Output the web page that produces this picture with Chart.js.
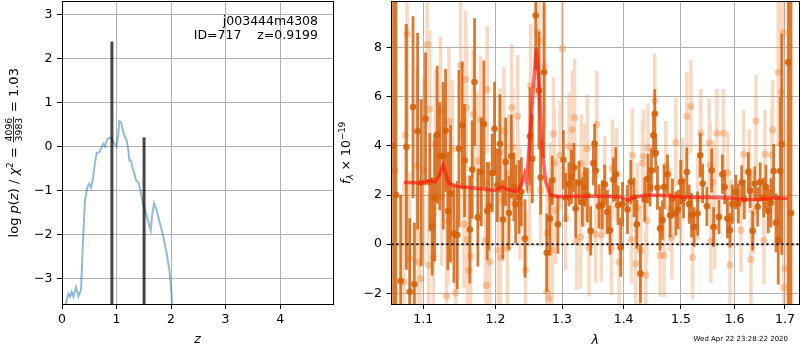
<!DOCTYPE html>
<html>
<head>
<meta charset="utf-8">
<script src="https://cdn.jsdelivr.net/npm/chart.js@4.4.1/dist/chart.umd.min.js"></script>
<style>
html, body { margin: 0; padding: 0; background: #fff; }
#wrap { position: relative; width: 800px; height: 350px; }
#wrap canvas { position: absolute; left: 0; top: 0; }
</style>
</head>
<body>
<div id="wrap">
  <canvas id="pzChart" width="800" height="350"></canvas>
  <canvas id="specChart" width="800" height="350"></canvas>
</div>
<script>
// ---- left panel: log p(z)
const zGrid = [0.06, 0.073, 0.116, 0.147, 0.177, 0.208, 0.257, 0.30, 0.349, 0.391, 0.422, 0.465, 0.50, 0.532, 0.563,
  0.606, 0.636, 0.685, 0.728, 0.758, 0.789, 0.82, 0.868, 0.90, 0.96, 1.003, 1.033, 1.05, 1.083, 1.125, 1.156, 1.187,
  1.217, 1.235, 1.266, 1.297, 1.321, 1.358, 1.40, 1.431, 1.48, 1.541, 1.584, 1.627, 1.657, 1.688, 1.737, 1.798, 1.86,
  1.92, 1.97, 2.0, 2.025];
const logPz = [-3.75, -3.57, -3.35, -3.42, -3.31, -3.42, -3.20, -3.41, -3.26, -1.98, -1.23, -0.92, -0.85, -0.94, -0.77,
  -0.36, -0.15, -0.13, -0.02, 0.06, 0.0, 0.14, 0.20, 0.20, 0.06, 0.0, 0.29, 0.58, 0.55, 0.33, 0.21, 0.14,
  -0.09, -0.32, -0.32, -0.51, -0.58, -0.77, -0.81, -0.96, -1.27, -1.53, -1.72, -1.91, -1.53, -1.29, -1.45, -1.76, -2.06,
  -2.44, -2.82, -3.2, -3.7];
const zPeaks = [0.915, 1.505];
const peakTops = [2.39, 0.21];
const zTicks = [0, 1, 2, 3, 4];
const pzTicks = [-3, -2, -1, 0, 1, 2, 3];
const zMin = 0, zMax = 4.97, pzMin = -3.585, pzMax = 3.30;

// ---- right panel: spectrum
const lamTicks = [1.1, 1.2, 1.3, 1.4, 1.5, 1.6, 1.7];
const fluxTicks = [-2, 0, 2, 4, 6, 8];
const lamMin = 1.0588, lamMax = 1.729, fluxMin = -2.435, fluxMax = 9.88;

const darkLam = [1.0615, 1.0645, 1.0705, 1.0780, 1.0823, 1.0866, 1.0884, 1.0926, 1.0973, 1.1031, 1.1088, 1.1120, 1.1151,
  1.1187, 1.1222, 1.1268, 1.1300, 1.1331, 1.1368, 1.1414, 1.1460, 1.1483, 1.1529, 1.1561, 1.1635, 1.1668, 1.1701, 1.1748,
  1.1796, 1.1833, 1.1881, 1.1904, 1.1953, 1.1986, 1.2026, 1.2064, 1.2107, 1.2147, 1.2195, 1.2230, 1.2269, 1.2294, 1.2343,
  1.2379, 1.2433, 1.2507, 1.2543, 1.2594, 1.2644, 1.2670, 1.2721, 1.2763, 1.2812, 1.2849, 1.2936, 1.3021, 1.3057, 1.3109,
  1.3147, 1.3188, 1.3215, 1.3268, 1.3322, 1.3358, 1.3402, 1.3456, 1.3500, 1.3520, 1.3538, 1.3591, 1.3644, 1.3685, 1.3730,
  1.3773, 1.3829, 1.3868, 1.3907, 1.3952, 1.3981, 1.4065, 1.4121, 1.4177, 1.4223, 1.4286, 1.4361, 1.4418, 1.4453, 1.4477,
  1.4512, 1.4535, 1.4552, 1.4582, 1.4628, 1.4670, 1.4699, 1.4759, 1.4806, 1.4849, 1.4908, 1.4949, 1.4998, 1.5047, 1.5106,
  1.5149, 1.5193, 1.5241, 1.5304, 1.5352, 1.5397, 1.5476, 1.5565, 1.5601, 1.5703, 1.5767, 1.5811, 1.5862, 1.5912, 1.5958,
  1.6026, 1.6071, 1.6137, 1.6188, 1.6267, 1.6304, 1.6352, 1.6397, 1.6451, 1.6501, 1.6570, 1.6616, 1.6662, 1.6716, 1.6771,
  1.6817, 1.6864, 1.6905, 1.6934, 1.7069, 1.7124];
const darkFlux = [4.0, 2.0, -1.5, 3.96, -1.94, 5.58, -1.63, 4.6, 2.5, 5.1, 2.53, 0.73, 1.9,
  4.46, 3.58, 3.6, 4.63, 1.35, 2.06, 0.43, 0.37, 3.89, 4.84, 3.41, 0.6, 3.04, 6.6, 1.09,
  2.94, 4.88, 1.35, 1.54, 2.9, 4.7, 2.4, 4.09, 1.0, 3.35, 1.27, 3.58, 2.33, 1.63, 1.92,
  2.13, 0.23, 4.39, 3.48, 9.31, 6.26, 2.71, 7.0, -0.35, 1.04, 2.6, 0.81, 3.44, 1.9, 2.44,
  2.74, 3.12, 1.45, 2.5, 1.72, 2.33, 1.99, 0.54, 3.3, 4.09, 3.0, 1.54, 1.6, 2.44, 1.31,
  0.57, 2.63, 2.85, 1.59, -0.13, 1.63, 1.41, 2.53, 1.9, 0.81, -1.2, 1.82, 2.67, 2.33, 3.0,
  4.43, 5.31, 3.71, 2.3, 0.64, 0.98, 2.33, 2.85, 1.18, 1.86, 1.25, 1.41, 2.53, 1.86, 2.94,
  1.63, 1.18, 0.7, 1.25, 3.62, 2.47, 1.54, 3.0, 0.7, 1.11, 2.85, 2.33, 1.04, 0.57, 1.63,
  2.13, 1.65, 2.5, 1.82, 2.94, 2.17, 0.54, 2.47, 1.52, 2.53, 1.9, 2.33, 1.35, 1.68, 2.98,
  0.87, 0.16, 2.98, 4.07, 7.41, 1.27];
const darkErr = [14.0, 11.0, 3.5, 5.0, 3.0, 3.7, 2.5, 4.0, 3.4, 2.7, 2.0, 2.0, 2.6,
  2.8, 2.2, 3.0, 2.5, 2.4, 2.8, 2.0, 2.2, 3.2, 2.6, 2.3, 2.2, 2.0, 2.6, 2.0,
  2.2, 2.6, 2.0, 1.8, 1.6, 1.9, 1.5, 2.0, 1.6, 1.8, 1.5, 1.7, 1.4, 1.6, 1.5,
  1.4, 1.6, 2.0, 1.8, 2.2, 2.4, 1.5, 3.5, 1.6, 1.5, 1.0, 1.2, 1.2, 1.0, 0.9,
  1.1, 1.0, 1.2, 0.9, 1.0, 0.8, 1.1, 1.0, 0.9, 0.8, 1.0, 0.9, 1.0, 0.8, 0.9,
  1.0, 0.9, 1.1, 0.8, 1.2, 0.9, 1.0, 0.9, 0.8, 1.0, 1.2, 0.9, 1.0, 0.8, 0.9,
  0.9, 1.0, 0.8, 0.9, 0.9, 0.8, 0.9, 0.8, 0.9, 0.8, 0.9, 0.8, 0.9, 0.8, 1.0,
  0.8, 0.9, 0.8, 0.9, 0.9, 0.8, 0.8, 0.9, 0.8, 0.7, 0.8, 0.7, 0.8, 0.7, 0.8,
  0.7, 0.8, 0.7, 0.8, 0.8, 0.7, 0.8, 0.7, 0.8, 0.8, 0.8, 0.9, 0.9, 1.0, 1.1,
  1.2, 1.8, 3.0, 4.5, 12.0, 12.0];

const lightLam = [1.0630, 1.0748, 1.0768, 1.0789, 1.0823, 1.0920, 1.0938, 1.0964, 1.1008, 1.1053, 1.1074, 1.1088, 1.1133,
  1.1164, 1.1232, 1.1245, 1.1314, 1.1331, 1.1345, 1.1391, 1.1437, 1.1506, 1.1552, 1.1575, 1.1589, 1.1598, 1.1621, 1.1645,
  1.1683, 1.1748, 1.1786, 1.1857, 1.1871, 1.1881, 1.1919, 1.2040, 1.2064, 1.2074, 1.2099, 1.2122, 1.2172, 1.2195, 1.2237,
  1.2252, 1.2325, 1.2358, 1.2443, 1.2503, 1.2518, 1.2619, 1.2644, 1.2670, 1.2731, 1.2763, 1.2770, 1.2798, 1.2823, 1.2849,
  1.2865, 1.2880, 1.2901, 1.2968, 1.3005, 1.3057, 1.3109, 1.3163, 1.3199, 1.3231, 1.3295, 1.3306, 1.3349, 1.3402, 1.3429,
  1.3538, 1.3554, 1.3630, 1.3685, 1.3796, 1.3812, 1.3885, 1.3924, 1.4132, 1.4149, 1.4206, 1.4235, 1.4292, 1.4321, 1.4338,
  1.4378, 1.4395, 1.4418, 1.4535, 1.4628, 1.4699, 1.4729, 1.4806, 1.4836, 1.4908, 1.4998, 1.5029, 1.5106, 1.5180, 1.5211,
  1.5304, 1.5364, 1.5518, 1.5537, 1.5550, 1.5601, 1.5625, 1.5663, 1.5785, 1.5873, 1.5912, 1.5929, 1.6123, 1.6176, 1.6285,
  1.6318, 1.6370, 1.6417, 1.6576, 1.6596, 1.6730, 1.6750, 1.6864, 1.6934, 1.6970, 1.6974, 1.7001];
const lightFlux = [3.0, -1.53, 4.43, 8.56, -0.58, 3.2, -0.72, -1.4, 3.0, 8.13, -0.85, 5.5, -0.54,
  4.1, 5.45, 1.92, -2.11, 0.95, 5.0, 3.86, -1.98, 7.28, 0.81, 6.7, 5.56, 0.19, -1.06, -0.49,
  5.3, 3.39, 5.07, 0.16, -1.67, 6.29, -0.72, -0.24, 3.75, -0.54, 1.79, 4.6, -0.17, 2.87, 5.56,
  3.96, 5.2, 1.65, -1.06, 2.22, 6.46, 8.63, 8.29, 2.2, 7.24, -1.94, 0.46, -2.21, 1.95, -0.24,
  4.5, 3.3, 1.38, 3.62, 7.96, 1.04, 3.98, 4.66, 5.15, 0.13, 0.3, 3.28, 2.8, 3.89, -0.13,
  0.41, 4.88, 0.37, 2.4, -0.17, 3.08, 2.85, -0.72, 0.19, 3.62, -0.79, 1.49, -0.27, 3.3, 3.58,
  -1.26, 0.95, 3.93, 5.85, -0.45, -0.45, 3.21, 1.41, 0.27, 4.16, 1.65, 2.63, 5.2, 5.61, -0.54,
  1.86, 4.52, 4.13, 3.21, 0.13, 2.53, 0.68, 4.52, 4.52, 2.9, -0.85, 1.04, 0.57, 3.66, 2.98,
  -0.62, 1.31, 5.01, 0.16, 3.66, 3.62, 4.66, 7.0, 6.19, 8.59, -1.76, -0.99];
const lightErr = [12.0, 4.0, 4.5, 4.0, 3.5, 4.0, 3.2, 3.5, 3.8, 3.0, 3.0, 3.2, 2.8,
  3.0, 3.0, 2.8, 3.0, 2.6, 3.0, 2.8, 3.0, 3.0, 2.6, 2.8, 2.6, 2.6, 2.8, 2.5,
  2.6, 2.8, 2.6, 2.5, 2.8, 2.6, 2.4, 2.5, 2.6, 2.4, 2.5, 2.6, 2.3, 2.4, 2.6,
  2.4, 2.5, 2.3, 2.4, 2.3, 2.5, 2.6, 2.4, 2.3, 2.5, 2.4, 2.3, 2.4, 2.2, 2.2,
  2.3, 2.2, 2.2, 2.2, 3.2, 2.1, 2.2, 2.4, 2.4, 2.0, 2.1, 2.0, 2.1, 2.2, 2.0,
  2.0, 2.2, 1.9, 2.0, 1.9, 2.0, 1.9, 1.9, 1.8, 1.9, 1.8, 1.8, 1.8, 1.8, 1.9,
  1.8, 1.7, 1.8, 1.9, 1.7, 1.7, 1.8, 1.7, 1.7, 1.8, 1.7, 1.7, 1.8, 1.9, 1.7,
  1.7, 1.8, 1.8, 1.7, 1.7, 1.7, 1.7, 1.8, 1.8, 1.7, 1.7, 1.6, 1.7, 1.8, 1.7,
  1.8, 1.7, 1.9, 1.8, 1.8, 1.9, 2.0, 3.0, 4.0, 6.0, 5.0, 6.0];

const modelLam = [1.0747, 1.0899, 1.0964, 1.1075, 1.1164, 1.1204, 1.1268, 1.1345, 1.1460, 1.1786, 1.1929, 1.2001, 1.2099,
  1.2172, 1.2316, 1.2388, 1.2427, 1.2458, 1.2503, 1.2553, 1.2604, 1.2644, 1.2695, 1.2747, 1.2823, 1.2950, 1.3300, 1.3700,
  1.3950, 1.4065, 1.4200, 1.4403, 1.4700, 1.5000, 1.5500, 1.5900, 1.6190, 1.6500, 1.6800, 1.7055];
const modelFlux = [2.51, 2.50, 2.48, 2.58, 2.55, 2.75, 3.21, 2.47, 2.36, 2.26, 2.21, 2.20, 2.33,
  2.22, 2.15, 2.50, 2.87, 2.49, 4.23, 6.13, 7.96, 6.67, 3.82, 2.53, 1.99, 1.93, 1.95, 1.95,
  1.92, 1.79, 1.92, 2.00, 1.98, 1.92, 1.90, 1.88, 1.82, 1.83, 1.88, 1.86];

const FONT = 'DejaVu Sans';
const FS = 12.5;
Chart.defaults.font.family = FONT;
Chart.defaults.font.size = FS;
Chart.defaults.color = '#000';

function pairs(xs, ys) {
  return xs.map((x, i) => ({ x: x, y: ys[i] }));
}

// vertical error bars as broken line segments
function errorSegments(lams, fluxes, errs) {
  const pts = [];
  lams.forEach((l, i) => {
    pts.push({ x: l, y: fluxes[i] - errs[i] });
    pts.push({ x: l, y: fluxes[i] + errs[i] });
    pts.push({ x: l, y: null });
  });
  return pts;
}

function fixedTicks(values) {
  return function(scale) {
    scale.ticks = values.map(v => ({ value: v }));
  };
}

// keep the plot area exactly where the layout padding puts it
function fitX(scale) {
  scale.height = 46;
  scale.paddingLeft = 0;
  scale.paddingRight = 0;
}
function fitY(width) {
  return function(scale) {
    scale.width = width;
    scale.paddingTop = 0;
    scale.paddingBottom = 0;
  };
}

function minusLabel(v) {
  return v < 0 ? '\u2212' + Math.abs(v) : String(v);
}

// draws text made of pieces (italic, sub/superscript, fraction), centred on cx, cy
function drawRich(ctx, parts, cx, cy, angle, size) {
  const fontOf = p => (p.it ? 'italic ' : '') + (size * (p.s || 1)) + 'px "' + FONT + '"';
  const fracFont = (size * 0.72) + 'px "' + FONT + '"';
  ctx.save();
  ctx.translate(cx, cy);
  ctx.rotate(angle);
  const widths = parts.map(p => {
    if (p.frac) {
      ctx.font = fracFont;
      return Math.max(ctx.measureText(p.frac[0]).width, ctx.measureText(p.frac[1]).width) + 3;
    }
    ctx.font = fontOf(p);
    return ctx.measureText(p.t).width;
  });
  const total = widths.reduce((a, b) => a + b, 0);
  let x = -total / 2;
  const base = size * 0.36;
  ctx.fillStyle = '#000';
  parts.forEach((p, i) => {
    if (p.frac) {
      const mid = x + widths[i] / 2;
      const axis = base - size * 0.32;
      ctx.font = fracFont;
      ctx.textAlign = 'center';
      ctx.textBaseline = 'alphabetic';
      ctx.fillText(p.frac[0], mid, axis - 1.5);
      ctx.textBaseline = 'top';
      ctx.fillText(p.frac[1], mid, axis + 1.5);
      ctx.fillRect(x + 0.5, axis - 0.4, widths[i] - 1, 0.8);
    } else {
      ctx.font = fontOf(p);
      ctx.textAlign = 'left';
      ctx.textBaseline = 'alphabetic';
      ctx.fillText(p.t, x, base + (p.dy || 0));
    }
    x += widths[i];
  });
  ctx.restore();
}

function drawFrame(chart) {
  const { ctx, chartArea: a } = chart;
  const x0 = Math.floor(a.left) + 0.5;
  const y0 = Math.floor(a.top) + 0.5;
  ctx.save();
  ctx.strokeStyle = '#000';
  ctx.lineWidth = 1;
  ctx.strokeRect(x0, y0, Math.round(a.right - a.left), Math.round(a.bottom - a.top));
  ctx.restore();
}

const gridStyle = { color: '#b0b0b0', lineWidth: 1, tickLength: 5, tickColor: '#000', tickWidth: 1 };

// ---------------- left chart ----------------
const pzDatasets = zPeaks.map((z, i) => ({
  data: [{ x: z, y: pzMin - 1 }, { x: z, y: peakTops[i] }],
  showLine: true,
  borderColor: 'rgba(0,0,0,0.72)',
  borderWidth: 3,
  borderCapStyle: 'butt',
  pointRadius: 0,
  clip: 0,
  order: 0
}));
pzDatasets.push({
  data: pairs(zGrid, logPz),
  showLine: true,
  borderColor: 'rgba(31,119,180,0.5)',
  borderWidth: 2,
  pointRadius: 0,
  tension: 0,
  clip: 0,
  order: 1
});

new Chart(document.getElementById('pzChart'), {
  type: 'scatter',
  data: { datasets: pzDatasets },
  options: {
    responsive: false,
    animation: false,
    events: [],
    layout: { autoPadding: false, padding: { left: 0, top: 1.5, right: 467, bottom: 0 } },
    plugins: { legend: { display: false }, tooltip: { enabled: false } },
    scales: {
      x: {
        type: 'linear', min: zMin, max: zMax,
        afterBuildTicks: fixedTicks(zTicks),
        afterFit: fitX,
        grid: gridStyle, border: { display: false },
        ticks: { padding: 3.5, maxRotation: 0, autoSkip: false, callback: v => String(v) }
      },
      y: {
        type: 'linear', min: pzMin, max: pzMax,
        afterBuildTicks: fixedTicks(pzTicks),
        afterFit: fitY(62),
        grid: gridStyle, border: { display: false },
        ticks: { padding: 4.5, autoSkip: false, callback: minusLabel }
      }
    }
  },
  plugins: [{
    id: 'pzDecor',
    afterDraw(chart) {
      const ctx = chart.ctx;
      const a = chart.chartArea;
      drawFrame(chart);
      ctx.save();
      ctx.fillStyle = '#000';
      ctx.font = FS + 'px "' + FONT + '"';
      ctx.textAlign = 'right';
      ctx.textBaseline = 'alphabetic';
      ctx.fillText('j003444m4308', 318, 24.5);
      ctx.fillText('ID=717    z=0.9199', 318, 39);
      ctx.font = 'italic ' + FS + 'px "' + FONT + '"';
      ctx.textAlign = 'center';
      ctx.textBaseline = 'middle';
      ctx.fillText('z', (a.left + a.right) / 2, 340);
      ctx.restore();
      drawRich(ctx, [
        { t: 'log ' }, { t: 'p', it: 1 }, { t: '(' }, { t: 'z', it: 1 }, { t: ') / ' },
        { t: '\u03c7', it: 1 }, { t: '2', s: 0.7, dy: -5 }, { t: ' = ' },
        { frac: ['4096', '3983'] }, { t: ' = 1.03' }
      ], 13, (a.top + a.bottom) / 2, -Math.PI / 2, 13);
    }
  }]
});

// ---------------- right chart ----------------
new Chart(document.getElementById('specChart'), {
  type: 'scatter',
  data: {
    datasets: [
      {
        data: [{ x: lamMin, y: 0 }, { x: lamMax, y: 0 }],
        showLine: true, borderColor: '#000', borderWidth: 2, borderDash: [2, 3],
        pointRadius: 0, clip: 0, order: 0
      },
      {
        data: pairs(modelLam, modelFlux),
        showLine: true, borderColor: 'rgba(255,20,10,0.65)', borderWidth: 3.5,
        pointRadius: 0, tension: 0, clip: 0, order: 1
      },
      {
        data: pairs(darkLam, darkFlux),
        pointRadius: 3.3, pointBackgroundColor: 'rgba(214,98,12,0.9)', pointBorderWidth: 0,
        clip: 0, order: 2
      },
      {
        data: errorSegments(darkLam, darkFlux, darkErr),
        showLine: true, spanGaps: false, borderColor: 'rgba(214,98,12,0.85)', borderWidth: 2.8,
        borderCapStyle: 'butt', pointRadius: 0, clip: 0, order: 3
      },
      {
        data: pairs(lightLam, lightFlux),
        pointRadius: 3.6, pointBackgroundColor: 'rgba(232,130,50,0.38)', pointBorderWidth: 0,
        clip: 0, order: 4
      },
      {
        data: errorSegments(lightLam, lightFlux, lightErr),
        showLine: true, spanGaps: false, borderColor: 'rgba(236,140,70,0.33)', borderWidth: 3.5,
        borderCapStyle: 'butt', pointRadius: 0, clip: 0, order: 5
      }
    ]
  },
  options: {
    responsive: false,
    animation: false,
    events: [],
    layout: { autoPadding: false, padding: { left: 0, top: 1.5, right: 1, bottom: 0 } },
    plugins: { legend: { display: false }, tooltip: { enabled: false } },
    scales: {
      x: {
        type: 'logarithmic', min: lamMin, max: lamMax,
        afterBuildTicks: fixedTicks(lamTicks),
        afterFit: fitX,
        grid: gridStyle, border: { display: false },
        ticks: { padding: 3.5, maxRotation: 0, autoSkip: false, callback: v => Number(v).toFixed(1) }
      },
      y: {
        type: 'linear', min: fluxMin, max: fluxMax,
        afterBuildTicks: fixedTicks(fluxTicks),
        afterFit: fitY(391.5),
        grid: gridStyle, border: { display: false },
        ticks: { padding: 4.5, autoSkip: false, callback: minusLabel }
      }
    }
  },
  plugins: [{
    id: 'specDecor',
    afterDraw(chart) {
      const ctx = chart.ctx;
      const a = chart.chartArea;
      drawFrame(chart);
      ctx.save();
      ctx.fillStyle = '#000';
      ctx.font = 'italic ' + FS + 'px "' + FONT + '"';
      ctx.textAlign = 'center';
      ctx.textBaseline = 'middle';
      ctx.fillText('\u03bb', (a.left + a.right) / 2, 341);
      ctx.font = '7px "' + FONT + '"';
      ctx.textAlign = 'right';
      ctx.fillText('Wed Apr 22 23:28:22 2020', 788, 339);
      ctx.restore();
      drawRich(ctx, [
        { t: 'f', it: 1 }, { t: '\u03bb', it: 1, s: 0.7, dy: 3 }, { t: ' \u00d7 10' }, { t: '\u221219', s: 0.7, dy: -5 }
      ], 345, (a.top + a.bottom) / 2, -Math.PI / 2, FS);
    }
  }]
});
</script>
</body>
</html>
